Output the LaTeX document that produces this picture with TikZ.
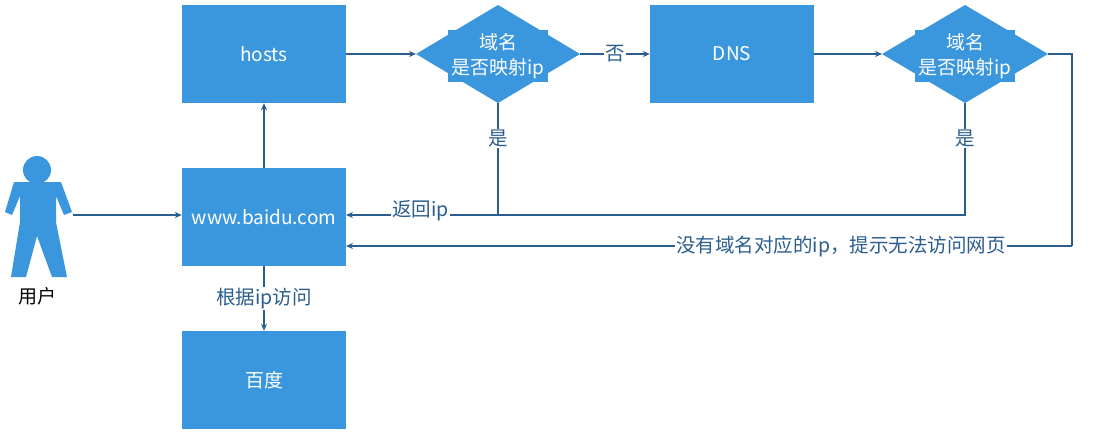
\documentclass[tikz,border=0pt]{standalone}
\usepackage{fontspec}
\setmainfont{Noto Sans CJK SC}
\usetikzlibrary{arrows.meta}
\definecolor{fillb}{HTML}{3A96DD}
\definecolor{lineb}{HTML}{2B5D8E}
\begin{document}
\begin{tikzpicture}[x=1pt,y=-1pt,
  box/.style={fill=fillb,draw=none,minimum width=164pt,minimum height=98pt,inner sep=0pt,text=white,font=\fontsize{19}{22}\selectfont},
  dia/.style={fill=fillb,draw=none,text=white,font=\fontsize{19}{25}\selectfont,align=center},
  con/.style={draw=lineb,line width=1.2pt,-{Stealth[length=7pt,width=6pt]}},
  ln/.style={draw=lineb,line width=1.2pt},
  lab/.style={text=lineb,font=\fontsize{19.5}{22}\selectfont,fill=white,inner sep=1pt}]
\useasboundingbox (0,0) rectangle (1109,432);
\node[box] (hosts) at (264,54) {hosts};
\node[box] (dns) at (732,54) {DNS};
\node[box] (www) at (264,217) {www.baidu.com};
\node[box] (bd) at (264,380) {百度};
\path[fill=fillb] (416,54) -- (498,5) -- (580,54) -- (498,103) -- cycle;
\node[dia] (d1) at (498,56) {域名\\是否映射ip};
\coordinate (d1b) at (498,103);
\coordinate (d1l) at (416,54); \coordinate (d1r) at (580,54);
\path[fill=fillb] (882,54) -- (965,5) -- (1048,54) -- (965,103) -- cycle;
\node[dia] (d2) at (965,56) {域名\\是否映射ip};
\coordinate (d2b) at (965,103); \coordinate (d2l) at (882,54); \coordinate (d2r) at (1048,54);
% user
\fill[fillb] (37,170) circle (14);
\fill[fillb] (14,182) -- (61,182) -- (72,212) -- (64,215) -- (56,196) -- (56,222) -- (67,277) -- (52,277) -- (37,236) -- (26,277) -- (11,277) -- (20,222) -- (20,196) -- (12,215) -- (5,212) -- cycle;
\node[text=black,font=\fontsize{19}{22}\selectfont,inner sep=0pt] (user) at (38,296) {用户};
\coordinate (uh) at (73,215);
\coordinate (wl) at (346,215);
\coordinate (wl2) at (346,246);
% connectors
\draw[con] (uh) -- (wl -| www.west);
\draw[con] (www.north) -- (hosts.south);
\draw[con] (hosts.east) -- (d1l);
\draw[con] (d1r) -- node[lab]{否} (dns.west);
\draw[con] (dns.east) -- (d2l);
\coordinate (j1) at (498,215);
\draw[ln] (d1b) -- node[lab,pos=0.32]{是} (j1);
\draw[con] (j1) -- node[lab,pos=0.51,yshift=4pt]{返回ip} (wl);
\coordinate (j2) at (965,215);
\draw[ln] (d2b) -- node[lab,pos=0.32]{是} (j2) -- (j1);
\coordinate (r1) at (1072,54); \coordinate (r2) at (1072,246);
\draw[ln] (d2r) -- (r1) -- (r2);
\draw[con] (r2) -- node[lab,pos=0.318]{没有域名对应的ip，提示无法访问网页} (wl2);
\draw[con] (www.south) -- node[lab,pos=0.5]{根据ip访问} (bd.north);
\end{tikzpicture}
\end{document}
